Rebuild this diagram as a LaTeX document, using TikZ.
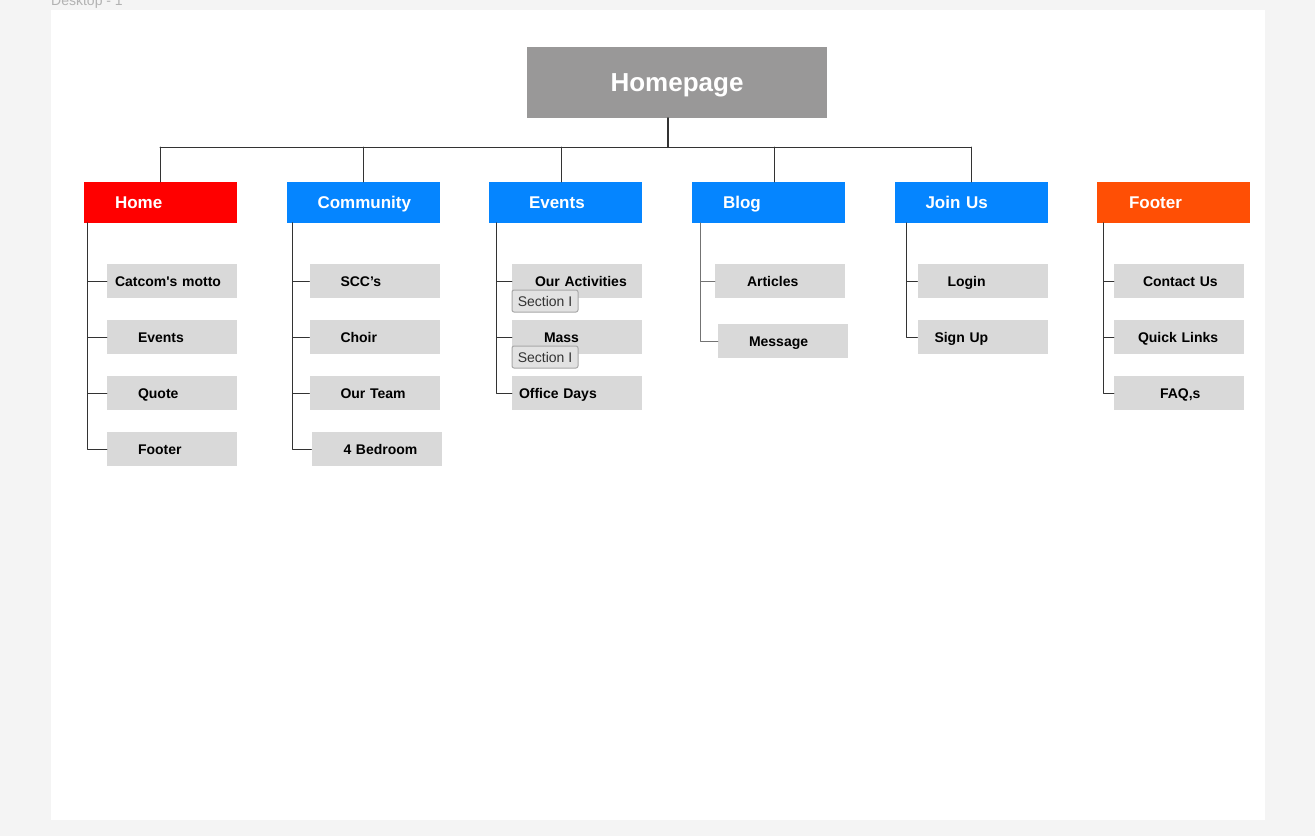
\documentclass[tikz,border=0pt]{standalone}
\usepackage{fontspec}
\setmainfont{Liberation Sans}
\newfontfamily\plainsans{Liberation Sans}
\usepackage{tikz}
\newcommand{\lpad}[1]{\hspace*{#1pt}}
\definecolor{ffqqqq}{rgb}{1.,0.,0.}
\definecolor{qq84fe}{rgb}{0.02,0.52,1.}
\definecolor{ff5005}{rgb}{1.,0.31,0.02}
\definecolor{zz9898}{rgb}{0.6,0.596,0.596}
\definecolor{d9d9d9}{rgb}{0.851,0.851,0.851}
\definecolor{e2e2e2}{rgb}{0.886,0.886,0.886}
\definecolor{a8a8a8}{rgb}{0.66,0.66,0.66}
\definecolor{tttttt}{rgb}{0.2,0.2,0.2}
\definecolor{wwwwww}{rgb}{0.45,0.45,0.45}
\definecolor{f4f4f4}{rgb}{0.957,0.957,0.957}
\definecolor{b3b3b3}{rgb}{0.7,0.7,0.7}
\tikzstyle{every node}=[inner sep=0pt]
\tikzstyle{catbox}=[minimum height=41pt, text width=153pt, text height=12.2pt, text depth=0pt, align=left, text=white, font=\fontsize{17}{20}\selectfont\bfseries]
\tikzstyle{kidbox}=[fill=d9d9d9, minimum height=34pt, text width=130pt, text height=10pt, text depth=0pt, align=left, font=\fontsize{14}{16}\selectfont\bfseries]
\tikzstyle{badge}=[fill=e2e2e2, draw=a8a8a8, line width=1pt, rounded corners=2pt, minimum width=66pt, minimum height=22pt, text=tttttt, font=\fontsize{14}{16}\selectfont]
\tikzstyle{branch}=[line width=1pt, color=tttttt]

\begin{document}
\begin{tikzpicture}[line cap=round,line join=round,x=1pt,y=-1pt]
            \useasboundingbox (0,0) rectangle (1315,836);
            \fill[color=f4f4f4] (0,0) rectangle (1315,836);
            \fill[color=white] (51,10) rectangle (1265,820);
            \node[anchor=base west, text=b3b3b3, font=\fontsize{14}{16}\selectfont] (frame) at (51,5) {Desktop - 1};
            % top of the tree
            \node[fill=zz9898, minimum width=300pt, minimum height=71pt, text height=18.6pt, text depth=0pt, text=white, font=\fontsize{26}{30}\selectfont\bfseries] (homepage) at (677,82.5) {Homepage};
            \node[catbox, fill=ffqqqq] (home) at (160.5,202.5) {\lpad{31}Home};
            \node[catbox, fill=qq84fe] (community) at (363,202.5) {\lpad{31}Community};
            \node[catbox, fill=qq84fe] (events) at (565.5,202.5) {\lpad{40}Events};
            \node[catbox, fill=qq84fe] (blog) at (768.5,202.5) {\lpad{31}Blog};
            \node[catbox, fill=qq84fe] (joinus) at (971,202.5) {\lpad{31}Join Us};
            \node[catbox, fill=ff5005] (footer) at (1173.5,202.5) {\lpad{32}Footer};
            \coordinate (busl) at (160,147);
            \coordinate (busr) at (971,147);
            \draw [line width=2pt,color=tttttt] ([xshift=-9pt]homepage.south) -- ([xshift=-9pt]homepage.south |- busl);
            \draw [branch] (busl) -- (busr);
            \draw [branch] (home.north) -- (home.north |- busl);
            \draw [branch] (community.north) -- (community.north |- busl);
            \draw [branch] ([xshift=-4.5pt]events.north) -- ([xshift=-4.5pt]events.north |- busl);
            \draw [branch] ([xshift=5.5pt]blog.north) -- ([xshift=5.5pt]blog.north |- busl);
            \draw [branch] (joinus.north) -- (joinus.north |- busl);
            % home
            \node[kidbox] (hm1) at (172,281) {\lpad{8}{\plainsans Catcom's motto}};
            \node[kidbox] (hm2) at (172,337) {\lpad{31}Events};
            \node[kidbox] (hm3) at (172,393) {\lpad{31}Quote};
            \node[kidbox] (hm4) at (172,449) {\lpad{31}Footer};
            \draw [branch] ([xshift=4pt]home.south west) |- (hm1.west);
            \draw [branch] ([xshift=4pt]home.south west) |- (hm2.west);
            \draw [branch] ([xshift=4pt]home.south west) |- (hm3.west);
            \draw [branch] ([xshift=4pt]home.south west) |- (hm4.west);
            % community
            \node[kidbox] (cm1) at (374.5,281) {\lpad{31}SCC’s};
            \node[kidbox] (cm2) at (374.5,337) {\lpad{31}Choir};
            \node[kidbox] (cm3) at (374.5,393) {\lpad{31}Our Team};
            \node[kidbox] (cm4) at (376.5,449) {\lpad{32}4 Bedroom};
            \draw [branch] ([xshift=6pt]community.south west) |- (cm1.west);
            \draw [branch] ([xshift=6pt]community.south west) |- (cm2.west);
            \draw [branch] ([xshift=6pt]community.south west) |- (cm3.west);
            \draw [branch] ([xshift=6pt]community.south west) |- (cm4.west);
            % events
            \node[kidbox] (ev1) at (577,281) {\lpad{23}Our Activities};
            \node[kidbox] (ev2) at (577,337) {\lpad{32}Mass};
            \node[kidbox] (ev3) at (577,393) {\lpad{7}Office Days};
            \draw [branch] ([xshift=8pt]events.south west) |- (ev1.west);
            \draw [branch] ([xshift=8pt]events.south west) |- (ev2.west);
            \draw [branch] ([xshift=8pt]events.south west) |- (ev3.west);
            \node[badge] (sec1) at (545,301) {Section I};
            \node[badge] (sec2) at (545,357) {Section I};
            % blog
            \node[kidbox] (bl1) at (780,281) {\lpad{32}Articles};
            \node[kidbox] (bl2) at (783,341) {\lpad{31}Message};
            \draw [line width=1pt,color=wwwwww] ([xshift=9pt]blog.south west) |- (bl1.west);
            \draw [line width=1pt,color=wwwwww] ([xshift=9pt]blog.south west) |- (bl2.west);
            % join us
            \node[kidbox] (jn1) at (982.5,281) {\lpad{30}Login};
            \node[kidbox] (jn2) at (982.5,337) {\lpad{17}Sign Up};
            \draw [branch] ([xshift=12pt]joinus.south west) |- (jn1.west);
            \draw [branch] ([xshift=12pt]joinus.south west) |- (jn2.west);
            % footer
            \node[kidbox] (ft1) at (1179,281) {\lpad{29}Contact Us};
            \node[kidbox] (ft2) at (1179,337) {\lpad{24}Quick Links};
            \node[kidbox] (ft3) at (1179,393) {\lpad{46}FAQ,s};
            \draw [branch] ([xshift=7pt]footer.south west) |- (ft1.west);
            \draw [branch] ([xshift=7pt]footer.south west) |- (ft2.west);
            \draw [branch] ([xshift=7pt]footer.south west) |- (ft3.west);
\end{tikzpicture}
\end{document}
